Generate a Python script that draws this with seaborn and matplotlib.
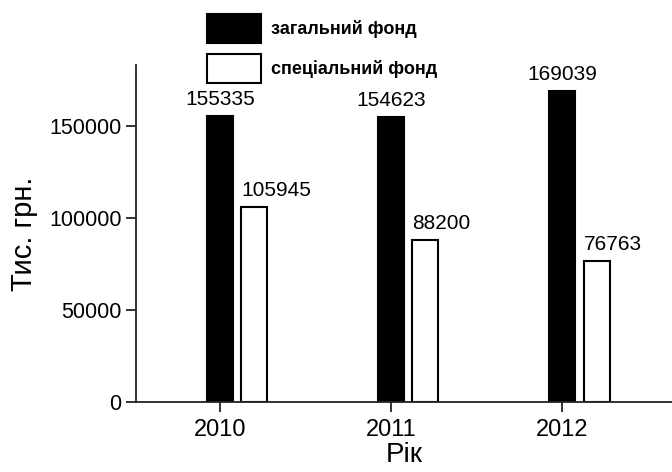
import pandas as pd
import matplotlib
matplotlib.use('Agg')
import matplotlib.pyplot as plt
import seaborn as sns

# data
years = ['2010', '2011', '2012']
general_fund = [155335, 154623, 169039]
special_fund = [105945, 88200, 76763]
series_names = ['загальний фонд', 'спеціальний фонд']
y_ticks = [0, 50000, 100000, 150000]

df = pd.DataFrame({
    'year': years * 2,
    'value': general_fund + special_fund,
    'fund': [series_names[0]] * 3 + [series_names[1]] * 3,
})

sns.set_theme(style='ticks', rc={'text.color': 'black', 'axes.labelcolor': 'black',
                                 'xtick.color': 'black', 'ytick.color': 'black'})
plt.rcParams['font.family'] = ['Liberation Sans', 'DejaVu Sans']

fig = plt.figure(figsize=(6.72, 4.72), dpi=100)
ax = fig.add_axes([136 / 672, 70 / 472, 1 - 136 / 672, 337 / 472])

sns.barplot(data=df, x='year', y='value', hue='fund', order=years,
            hue_order=series_names,
            palette={series_names[0]: 'black', series_names[1]: 'white'},
            width=0.4, gap=0.24, edgecolor='black', linewidth=1.5,
            legend=True, ax=ax)

# value labels: centered over black bars, left-aligned on white bars
for cont, vals, ha in zip(ax.containers, [general_fund, special_fund], ['center', 'left']):
    for patch, v in zip(cont.patches, vals):
        x = patch.get_x() + (patch.get_width() / 2 if ha == 'center' else 0)
        ax.annotate(str(v), (x, patch.get_height()), xytext=(0, 5),
                    textcoords='offset points', ha=ha, va='bottom',
                    fontsize=15)

# ticks sit under the black bars
ax.set_xticks([i - 0.1 for i in range(len(years))], years)
ax.set_xlim(-0.59, 2.54)
ax.set_ylim(0, 183000)
ax.set_yticks(y_ticks, [str(t) for t in y_ticks])
ax.tick_params(axis='both', length=7, width=1.3, color='#222222')
ax.tick_params(axis='x', labelsize=17, pad=5)
ax.tick_params(axis='y', labelsize=15.5)
sns.despine(ax=ax)
for s in ['left', 'bottom']:
    ax.spines[s].set_linewidth(1.3)
    ax.spines[s].set_color('#222222')

ax.set_xlabel('Рік', fontsize=20, labelpad=1)
ax.set_ylabel('Тис. грн.', fontsize=21, labelpad=8)

handles, labels = ax.get_legend_handles_labels()
ax.get_legend().remove()
leg = fig.legend(handles, labels, loc='upper left',
                 bbox_to_anchor=(207 / 672, 1 - 14 / 472), frameon=False,
                 borderpad=0, borderaxespad=0, handlelength=3.0,
                 handleheight=2.1, labelspacing=0.6, handletextpad=0.55,
                 prop={'weight': 'bold', 'size': 13})

fig.savefig('out.png', dpi=100)
